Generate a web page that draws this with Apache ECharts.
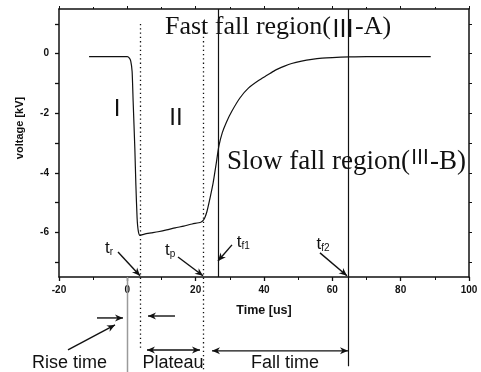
<!DOCTYPE html>
<html>
<head>
<meta charset="utf-8">
<script src="https://cdn.jsdelivr.net/npm/echarts@6/dist/echarts.min.js"></script>
<style>html,body{margin:0;padding:0;background:#fff}#c{width:481px;height:372px}</style>
</head>
<body>
<div id="c"></div>
<script>
// ---- data ----
const curveTime = [-11.2, -5, 0, 0.6, 1.0, 1.4, 1.7, 2.2, 2.5, 2.85, 3.2, 3.7, 5, 7, 9, 11.5, 14, 16.5, 19, 21.5,
  22.2, 22.7, 23.3, 24.2, 25.1, 26.0, 26.8, 27.8, 29.0, 30.5, 33, 35.5, 38.4, 41, 43.1, 46, 48.1, 51, 54, 57, 60, 65, 70, 88.8];
const curveVoltage = [-0.1, -0.1, -0.1, -0.15, -0.25, -0.6, -1.6, -3.2, -4.4, -5.5, -5.95, -6.1, -6.06, -6.02, -5.98, -5.92, -5.85, -5.79, -5.72, -5.66,
  -5.6, -5.5, -5.3, -4.85, -4.35, -3.7, -3.1, -2.65, -2.3, -1.95, -1.48, -1.15, -0.9, -0.72, -0.57, -0.42, -0.33, -0.25, -0.19, -0.15, -0.13, -0.11, -0.1, -0.1];

const xTickLabels = [-20, 0, 20, 40, 60, 80, 100];
const yTickLabels = [-6, -4, -2, 0];
const yTickValues = [-7, -6, -5, -4, -3, -2, -1, 0, 1];

// characteristic times (us)
const markerNames = ['zero', 'tr', 'tp', 'tf1', 'tf2'];
const markerTimes = [0, 3.8, 22.2, 26.4, 64.6];
const markerTop = [-7.5, 1.0, 1.0, 1.5, 1.5];
const markerBottom = [-10.7, -9.9, -10.7, -7.5, -10.5];
const markerKind = ['grey', 'dotted', 'dotted', 'solid', 'solid'];

// arrows: [t1, v1, t2, v2, doubleHeaded]
const arrowDefs = [
  [-2.73, -6.66, 3.7, -7.46, false],   // tr
  [14.83, -6.83, 22.14, -7.46, false], // tp
  [30.63, -6.42, 26.53, -6.96, false], // tf1
  [56.38, -6.69, 64.28, -7.46, false], // tf2
  [-8.88, -8.875, -1.27, -8.875, false], // rise →
  [13.95, -8.81, 6.05, -8.81, false],    // rise ←
  [-17.37, -9.95, -3.61, -9.11, false],  // Rise time pointer
  [5.75, -9.95, 21.26, -9.95, true],     // Plateau
  [24.78, -9.98, 64.58, -9.98, true]     // Fall time
];

// text annotations: [t, v, text, align]
const textDefs = [
  [-3.0, -1.86, '{s|I}', 'center'],
  [14.24, -2.16, '{s|II}', 'center'],
  [11.0, 0.99, '{r|Fast fall region(}{n|Ⅲ}{r|-A)}', 'left'],
  [29.2, -3.6, '{q|Slow fall region(}{m|Ⅲ}{q|-B)}', 'left'],
  [-6.54, -6.49, '{t|t}{u|r}', 'left'],
  [11.0, -6.56, '{t|t}{u|p}', 'left'],
  [32.0, -6.29, '{t|t}{u|f1}', 'left'],
  [55.4, -6.36, '{t|t}{u|f2}', 'left'],
  [-16.93, -10.39, '{b|Rise time}', 'center'],
  [13.36, -10.39, '{b|Plateau}', 'center'],
  [46.14, -10.39, '{b|Fall time}', 'center']
];

const richStyles = {
  s: { fontFamily: 'Liberation Sans', fontSize: 24, fill: '#111', lineHeight: 26 },
  r: { fontFamily: 'Liberation Serif', fontSize: 26, fill: '#111', lineHeight: 28, verticalAlign: 'bottom' },
  n: { fontFamily: 'Noto Sans CJK JP', fontSize: 24, fill: '#111', lineHeight: 31, verticalAlign: 'bottom' },
  q: { fontFamily: 'Liberation Serif', fontSize: 27, fill: '#111', lineHeight: 29, verticalAlign: 'bottom' },
  m: { fontFamily: 'Noto Sans CJK JP', fontSize: 20, fill: '#111', lineHeight: 16, verticalAlign: 'top' },
  t: { fontFamily: 'Liberation Sans', fontSize: 17, fill: '#111', lineHeight: 20, verticalAlign: 'bottom' },
  u: { fontFamily: 'Liberation Sans', fontSize: 10, fill: '#111', lineHeight: 8, verticalAlign: 'bottom' },
  b: { fontFamily: 'Liberation Sans', fontSize: 18, fill: '#111', lineHeight: 20 }
};

function renderAnnotations(params, api) {
  const children = [];
  const P = (t, v) => api.coord([t, v]);
  markerTimes.forEach((t, i) => {
    const a = P(t, markerTop[i]), b = P(t, markerBottom[i]);
    const kind = markerKind[i];
    const x = Math.round(a[0]) + 0.5;
    children.push({
      type: 'line',
      shape: { x1: x, y1: a[1], x2: x, y2: b[1] },
      style: {
        stroke: kind === 'grey' ? '#9a9a9a' : '#111',
        lineWidth: kind === 'grey' ? 1.5 : (kind === 'dotted' ? 1.3 : 1.2),
        lineDash: kind === 'dotted' ? [1.3, 3] : null
      }
    });
  });
  arrowDefs.forEach(d => {
    const p1 = P(d[0], d[1]), p2 = P(d[2], d[3]);
    children.push({ type: 'line', shape: { x1: p1[0], y1: p1[1], x2: p2[0], y2: p2[1] }, style: { stroke: '#111', lineWidth: 1.4 } });
    const heads = d[4] ? [[p1, p2], [p2, p1]] : [[p1, p2]];
    heads.forEach(h => {
      const from = h[0], to = h[1];
      const dx = to[0] - from[0], dy = to[1] - from[1];
      const len = Math.hypot(dx, dy) || 1;
      const ux = dx / len, uy = dy / len, nx = -uy, ny = ux;
      const L = 8, W = 3.5;
      children.push({
        type: 'polygon',
        shape: { points: [[to[0], to[1]], [to[0] - ux * L + nx * W, to[1] - uy * L + ny * W], [to[0] - ux * L * 0.7, to[1] - uy * L * 0.7], [to[0] - ux * L - nx * W, to[1] - uy * L - ny * W]] },
        style: { fill: '#111' }
      });
    });
  });
  textDefs.forEach(d => {
    const p = P(d[0], d[1]);
    children.push({
      type: 'text', x: p[0], y: p[1],
      style: { text: d[2], align: d[3], verticalAlign: 'middle', rich: richStyles, fill: '#111' }
    });
  });
  return { type: 'group', children };
}

const axisLine = { show: true, onZero: false, lineStyle: { color: '#111', width: 1.5 } };
const chart = echarts.init(document.getElementById('c'), null, { renderer: 'canvas' });
chart.setOption({
  animation: false,
  backgroundColor: '#fff',
  grid: { left: 59, right: 12, top: 9, bottom: 95, containLabel: false },
  xAxis: [{
    type: 'value', min: -20, max: 100, interval: 20, position: 'bottom',
    axisLine, splitLine: { show: false },
    axisTick: { show: true, inside: false, length: 4, lineStyle: { color: '#111', width: 1.3 } },
    minorTick: { show: true, splitNumber: 2, length: 3, lineStyle: { color: '#111', width: 1 } },
    axisLabel: { color: '#111', fontFamily: 'Liberation Sans', fontWeight: 'bold', fontSize: 10, margin: 8,
      customValues: xTickLabels },
    name: 'Time [us]', nameLocation: 'middle', nameGap: 27,
    nameTextStyle: { color: '#111', fontFamily: 'Liberation Sans', fontWeight: 'bold', fontSize: 12.5 }
  }, {
    type: 'value', min: -20, max: 100, interval: 20, position: 'top',
    axisLine, splitLine: { show: false }, axisLabel: { show: false },
    axisTick: { show: true, inside: false, length: 3, lineStyle: { color: '#111' } },
    minorTick: { show: true, splitNumber: 2, length: 2, lineStyle: { color: '#111' } }
  }],
  yAxis: [{
    type: 'value', min: -7.5, max: 1.5, position: 'left',
    axisLine, splitLine: { show: false },
    axisTick: { show: true, inside: false, length: 4, customValues: yTickValues, lineStyle: { color: '#111', width: 1.3 } },
    axisLabel: { color: '#111', fontFamily: 'Liberation Sans', fontWeight: 'bold', fontSize: 10, margin: 10,
      customValues: yTickLabels },
    name: 'voltage [kV]', nameLocation: 'middle', nameGap: 34,
    nameTextStyle: { color: '#111', fontFamily: 'Liberation Sans', fontWeight: 'bold', fontSize: 11, padding: [0, 0, 0, 30] }
  }, {
    type: 'value', min: -7.5, max: 1.5, position: 'right',
    axisLine, splitLine: { show: false }, axisLabel: { show: false },
    axisTick: { show: true, inside: false, length: 3, customValues: yTickValues, lineStyle: { color: '#111' } }
  }],
  series: [{
    type: 'line',
    data: curveTime.map((t, i) => [t, curveVoltage[i]]),
    showSymbol: false, smooth: 0.2,
    lineStyle: { color: '#111', width: 1.2 },
    z: 3
  }, {
    type: 'custom',
    data: [[0, 0]],
    renderItem: renderAnnotations,
    clip: false, silent: true, z: 4
  }]
});
</script>
</body>
</html>
